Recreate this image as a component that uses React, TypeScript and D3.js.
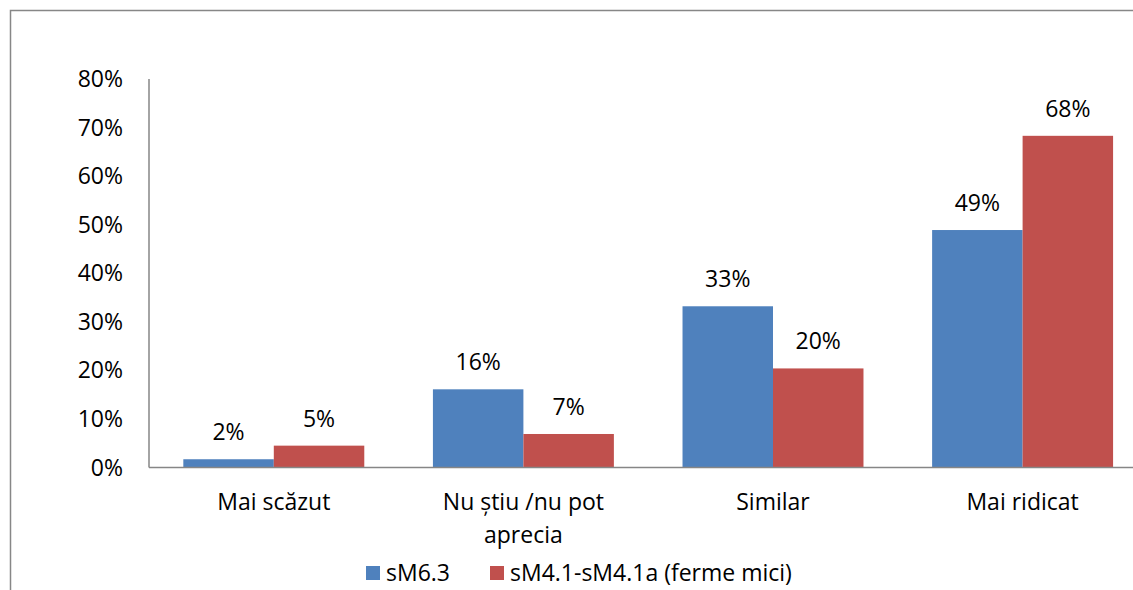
import React, { useRef, useEffect } from 'react';
import * as d3 from 'd3';

// Chart data
const categories = ['Mai scăzut', 'Nu știu /nu pot aprecia', 'Similar', 'Mai ridicat'];
const categoryLines = [['Mai scăzut'], ['Nu știu /nu pot', 'aprecia'], ['Similar'], ['Mai ridicat']];
const seriesNames = ['sM6.3', 'sM4.1-sM4.1a (ferme mici)'];
const sM63 = [1.7, 16.1, 33.2, 48.9];
const sM41 = [4.5, 6.9, 20.4, 68.3];
const yTicks = [0, 10, 20, 30, 40, 50, 60, 70, 80];

const colors = ['#4F81BD', '#C0504D'];
const FONT = '"Open Sans", sans-serif';
const FS = 23;

const App = () => {
  const svgRef = useRef<SVGSVGElement>(null);

  useEffect(() => {
    const svg = d3.select(svgRef.current);
    svg.selectAll('*').remove();

    const W = 1133;
    const H = 590;

    // outer chart frame (cropped on right / bottom)
    svg.append('rect')
      .attr('x', 10.5)
      .attr('y', 10.5)
      .attr('width', W + 20)
      .attr('height', H + 20)
      .attr('fill', 'white')
      .attr('stroke', '#878787')
      .attr('stroke-width', 1.5);

    const plotLeft = 149;
    const bandW = 249.6;
    const x0 = d3.scaleBand()
      .domain(categories)
      .range([plotLeft, plotLeft + bandW * categories.length])
      .paddingInner(0.275)
      .paddingOuter(0.1375);

    const x1 = d3.scaleBand()
      .domain(seriesNames)
      .range([0, x0.bandwidth()]);

    const y = d3.scaleLinear()
      .domain([0, 80])
      .range([467.5, 79]);

    const g = svg.append('g');

    // y tick labels
    g.selectAll('.ytick')
      .data(yTicks)
      .enter()
      .append('text')
      .attr('x', 123)
      .attr('y', d => y(d))
      .attr('dy', '0.35em')
      .attr('text-anchor', 'end')
      .style('font-family', FONT)
      .style('font-size', FS + 'px')
      .style('fill', '#000')
      .text(d => d + '%');

    const series = [sM63, sM41];

    series.forEach((vals, si) => {
      g.selectAll('.bar-' + si)
        .data(vals)
        .enter()
        .append('rect')
        .attr('x', (d, i) => (x0(categories[i]) as number) + (x1(seriesNames[si]) as number))
        .attr('y', d => y(d))
        .attr('width', x1.bandwidth())
        .attr('height', d => y(0) - y(d))
        .attr('fill', colors[si]);

      g.selectAll('.lbl-' + si)
        .data(vals)
        .enter()
        .append('text')
        .attr('x', (d, i) => (x0(categories[i]) as number) + (x1(seriesNames[si]) as number) + x1.bandwidth() / 2)
        .attr('y', d => y(d) - 19)
        .attr('text-anchor', 'middle')
        .style('font-family', FONT)
        .style('font-size', FS + 'px')
        .style('fill', '#000')
        .text(d => Math.round(d) + '%');
    });

    // axes lines
    g.append('line')
      .attr('x1', plotLeft)
      .attr('x2', plotLeft)
      .attr('y1', y(80))
      .attr('y2', y(0))
      .attr('stroke', '#868686')
      .attr('stroke-width', 1.5);

    g.append('line')
      .attr('x1', plotLeft)
      .attr('x2', W)
      .attr('y1', y(0))
      .attr('y2', y(0))
      .attr('stroke', '#868686')
      .attr('stroke-width', 1.5);

    // category labels
    categories.forEach((c, i) => {
      const cx = (x0(c) as number) + x0.bandwidth() / 2;
      categoryLines[i].forEach((line, li) => {
        g.append('text')
          .attr('x', cx)
          .attr('y', 510 + li * 33)
          .attr('text-anchor', 'middle')
          .style('font-family', FONT)
          .style('font-size', FS + 'px')
          .style('fill', '#000')
          .text(line);
      });
    });

    // legend
    const legendX = [366, 490];
    seriesNames.forEach((name, i) => {
      g.append('rect')
        .attr('x', legendX[i])
        .attr('y', 566)
        .attr('width', 14)
        .attr('height', 14)
        .attr('fill', colors[i]);
      g.append('text')
        .attr('x', legendX[i] + 20)
        .attr('y', 581)
        .style('font-family', FONT)
        .style('font-size', FS + 'px')
        .style('fill', '#000')
        .text(name);
    });
  }, []);

  return (
    <svg
      ref={svgRef}
      width={1133}
      height={590}
      style={{ position: 'absolute', left: 0, top: 0, display: 'block', background: 'white' }}
    />
  );
};

export default App;
